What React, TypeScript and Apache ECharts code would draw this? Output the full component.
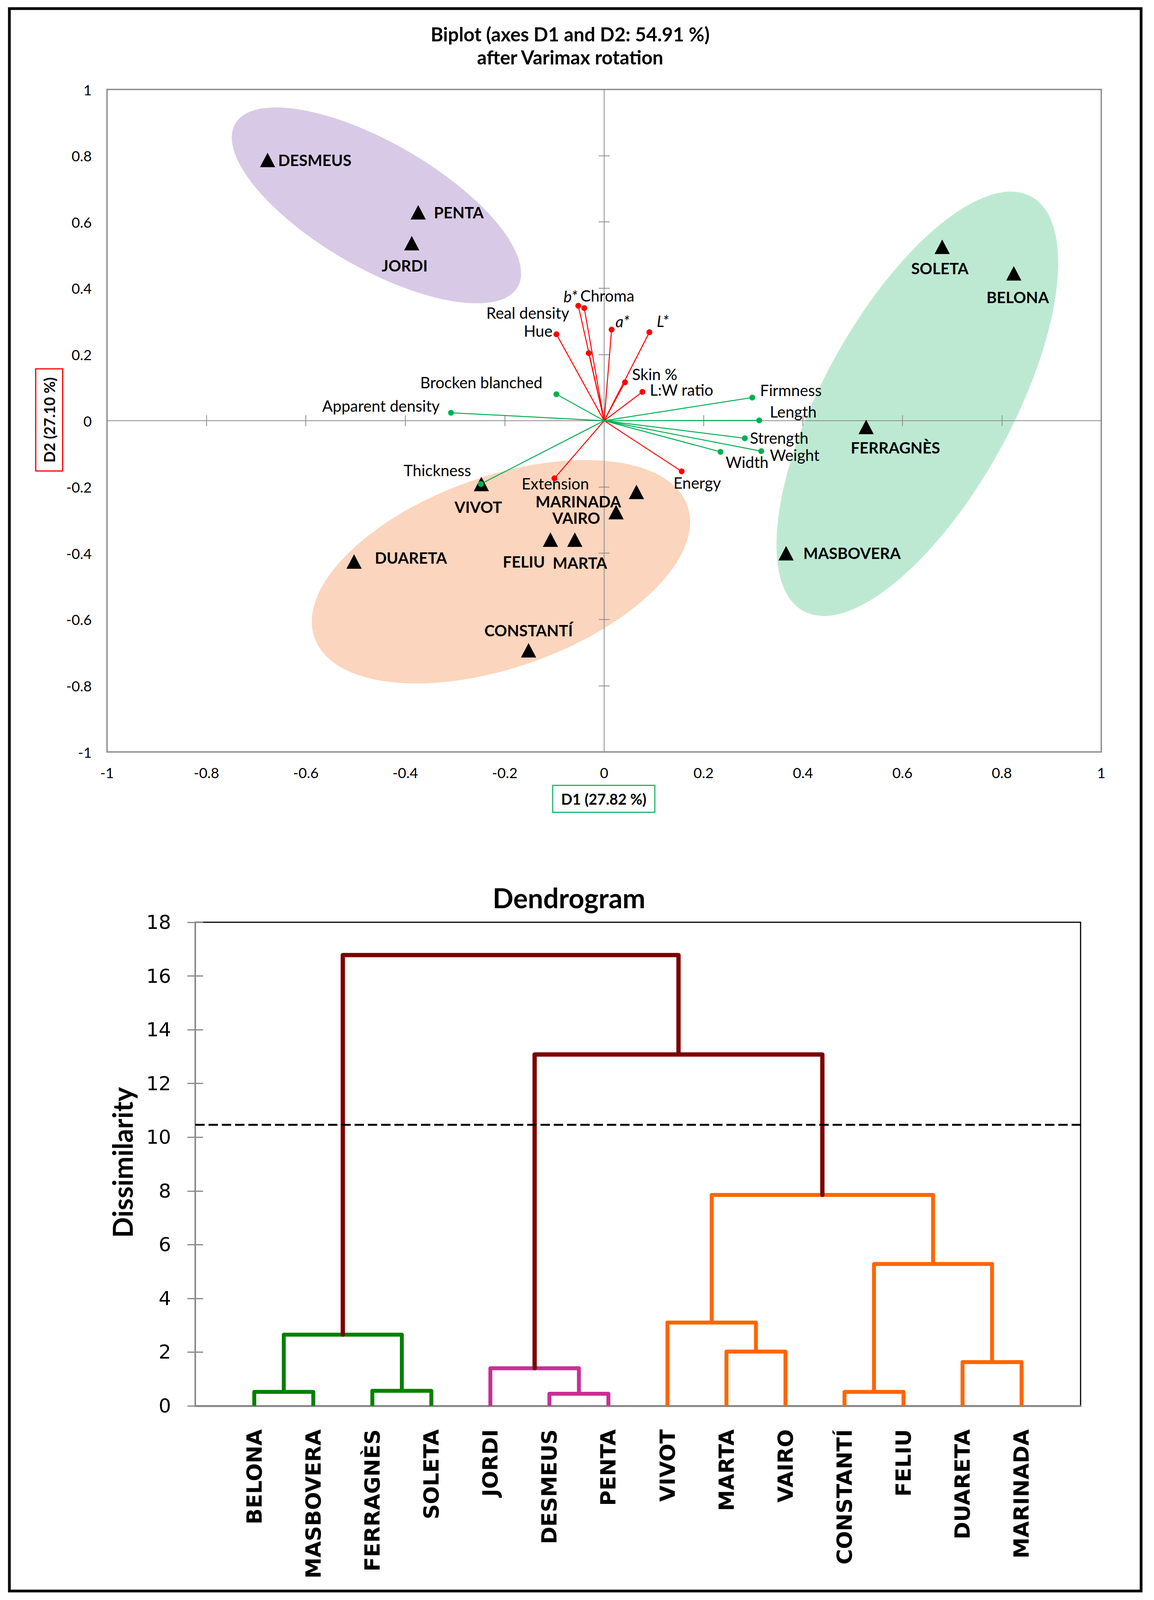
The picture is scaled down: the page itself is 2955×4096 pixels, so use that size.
import React, { useEffect, useRef } from 'react';
import * as echarts from 'echarts';

const FONT = 'Lato, "Open Sans", "Noto Sans", sans-serif';
const WIDE = '"DejaVu Sans", "Liberation Sans", sans-serif';

// ---------------- Biplot: observations (varieties) ----------------
const varieties = ['DESMEUS', 'PENTA', 'JORDI', 'SOLETA', 'BELONA', 'FERRAGNÈS', 'MASBOVERA', 'VIVOT', 'MARINADA', 'VAIRO', 'FELIU', 'MARTA', 'DUARETA', 'CONSTANTÍ'];
const varietyD1 = [-0.677, -0.374, -0.387, 0.680, 0.824, 0.527, 0.366, -0.247, 0.065, 0.024, -0.108, -0.059, -0.503, -0.152];
const varietyD2 = [0.787, 0.629, 0.536, 0.525, 0.445, -0.019, -0.400, -0.191, -0.215, -0.276, -0.359, -0.359, -0.425, -0.693];
// label placement (layout only, px)
const varietyLabelAlign = ['left', 'left', 'center', 'center', 'center', 'center', 'left', 'center', 'center', 'center', 'center', 'center', 'left', 'center'];
const varietyLabelDx = [27, 40, -18, -6, 10, 75, 44, -8, -149, -102, -68, 13, 53, 0];
const varietyLabelDy = [0, 0, 58, 55, 61, 53, 0, 59, 25, 15, 57, 60, -9, -51];

// ---------------- Biplot: variables (loadings) ----------------
const redVars = ['b*', 'Chroma', 'Real density', 'Hue', 'a*', 'L*', 'Skin %', 'L:W ratio', 'Energy', 'Extension'];
const redD1 = [-0.052, -0.040, -0.031, -0.096, 0.015, 0.091, 0.042, 0.077, 0.156, -0.100];
const redD2 = [0.347, 0.340, 0.204, 0.261, 0.275, 0.267, 0.116, 0.087, -0.153, -0.174];
const redLabelAlign = ['right', 'left', 'right', 'right', 'left', 'left', 'left', 'left', 'left', 'left'];
const redLabelDx = [-2, -10, -50, -10, 10, 19, 18, 19, -21, -84];
const redLabelDy = [-24, -32, -103, -9, -21, -29, -21, -5, 29, 13];

const greenVars = ['Brocken blanched', 'Apparent density', 'Firmness', 'Length', 'Strength', 'Weight', 'Width', 'Thickness'];
const greenD1 = [-0.096, -0.308, 0.298, 0.312, 0.283, 0.316, 0.234, -0.248];
const greenD2 = [0.080, 0.024, 0.070, 0.001, -0.053, -0.092, -0.094, -0.191];
const greenLabelAlign = ['right', 'right', 'left', 'left', 'left', 'left', 'left', 'right'];
const greenLabelDx = [-36, -29, 20, 27, 13, 22, 13, -25];
const greenLabelDy = [-30, -18, -19, -22, -1, 10, 26, -35];

const italicVars = ['b*', 'a*', 'L*'];

// ---------------- Cluster ellipses (data units; angle ccw degrees) ----------------
const ellipseCx = [-0.458, 0.630, -0.2075];
const ellipseCy = [0.650, 0.051, -0.456];
const ellipseRx = [0.328, 0.4756, 0.3976];
const ellipseRy = [0.126, 0.190, 0.192];
const ellipseAngle = [-30, 61.2, 19.5];
const ellipseColors = ['#d8cae6', '#bde9d3', '#fbd5bd'];

// ---------------- Dendrogram ----------------
const leaves = ['BELONA', 'MASBOVERA', 'FERRAGNÈS', 'SOLETA', 'JORDI', 'DESMEUS', 'PENTA', 'VIVOT', 'MARTA', 'VAIRO', 'CONSTANTÍ', 'FELIU', 'DUARETA', 'MARINADA'];
// merges create nodes 14, 15, ... ; children are leaf indexes or earlier node ids
const mergeLeft = [0, 2, 14, 5, 4, 8, 7, 10, 12, 21, 20, 18, 16];
const mergeRight = [1, 3, 15, 6, 17, 9, 19, 11, 13, 22, 23, 24, 25];
const mergeHeight = [0.52, 0.56, 2.65, 0.45, 1.40, 2.02, 3.10, 0.52, 1.63, 5.28, 7.85, 13.08, 16.78];
const mergeGroup = [0, 0, 0, 1, 1, 2, 2, 2, 2, 2, 2, 3, 3];
const groupColors = ['#008000', '#c82e96', '#ff6600', '#7a0000'];
const cutLevel = 10.47;

const xTicks = { min: -1, max: 1, interval: 0.2 };
const dendroY = { min: 0, max: 18, interval: 2 };

function buildOption() {
  const gray = '#8c8c8c';

  const nodeX: number[] = leaves.map((_, i) => i + 1);
  const nodeH: number[] = leaves.map(() => 0);
  mergeLeft.forEach((l, k) => {
    const r = mergeRight[k];
    nodeX.push((nodeX[l] + nodeX[r]) / 2);
    nodeH.push(mergeHeight[k]);
  });
  const dendroData = mergeLeft.map((l, k) => {
    const r = mergeRight[k];
    const h = mergeHeight[k];
    return {
      coords: [[nodeX[l], nodeH[l]], [nodeX[l], h], [nodeX[r], h], [nodeX[r], nodeH[r]]],
      lineStyle: { color: groupColors[mergeGroup[k]], width: mergeGroup[k] === 3 ? 11 : 10 },
    };
  });

  const fmt = (v: number) => String(Math.round(v * 10) / 10);

  const zeroAxis = (inside: boolean) => ({
    gridIndex: 0, type: 'value', min: xTicks.min, max: xTicks.max, interval: xTicks.interval, z: 3,
    axisLine: { show: true, onZero: true, onZeroAxisIndex: 0, lineStyle: { color: gray, width: 2 } },
    axisTick: { show: true, inside, length: 14, lineStyle: { color: gray, width: 2 } },
    axisLabel: { show: false }, splitLine: { show: false },
  });

  const markerData = (names: string[], d1: number[], d2: number[], al: string[], dx: number[], dy: number[]) =>
    names.map((n, i) => ({
      name: n,
      value: [d1[i], d2[i]],
      label: { align: al[i], offset: [dx[i], dy[i]], fontStyle: italicVars.includes(n) ? 'italic' : 'normal' },
    }));

  const centered = { align: 'center', verticalAlign: 'middle', textAlign: 'center', textVerticalAlign: 'middle' };

  return {
    animation: false,
    backgroundColor: '#ffffff',
    graphic: [
      { type: 'rect', shape: { x: 24, y: 22, width: 2898, height: 4051 }, style: { fill: 'none', stroke: '#000', lineWidth: 7 }, z: 10 },
      { type: 'text', x: 1460, y: 87, style: { text: 'Biplot (axes D1 and D2: 54.91 %)', fill: '#000', fontSize: 49, fontWeight: 'bold', fontFamily: FONT, ...centered } },
      { type: 'text', x: 1460, y: 146, style: { text: 'after Varimax rotation', fill: '#000', fontSize: 49, fontWeight: 'bold', fontFamily: FONT, ...centered } },
      { type: 'text', x: 1546, y: 2045, style: { text: 'D1 (27.82 %)', fill: '#000', fontSize: 38, fontWeight: 'bold', fontFamily: FONT, ...centered, borderColor: '#1fb56a', borderWidth: 3, padding: [14, 20], backgroundColor: '#fff' } },
      { type: 'text', x: 126, y: 1075, rotation: Math.PI / 2, style: { text: 'D2 (27.10 %)', fill: '#000', fontSize: 38, fontWeight: 'bold', fontFamily: FONT, ...centered, borderColor: '#ff0000', borderWidth: 3, padding: [14, 20], backgroundColor: '#fff' } },
      { type: 'text', x: 1457, y: 2298, style: { text: 'Dendrogram', fill: '#000', fontSize: 70, fontWeight: 'bold', fontFamily: FONT, ...centered } },
      { type: 'text', x: 313, y: 2976, rotation: Math.PI / 2, style: { text: 'Dissimilarity', fill: '#000', fontSize: 70, fontWeight: 'bold', fontFamily: FONT, ...centered } },
    ],
    grid: [
      { left: 274, right: 135, top: 229, bottom: 2171, show: true, borderColor: gray, borderWidth: 3.5, backgroundColor: 'transparent', outerBoundsMode: 'none', containLabel: false },
      { left: 500, right: 188, top: 2361, bottom: 497, show: true, borderColor: '#000', borderWidth: 3, backgroundColor: 'transparent', outerBoundsMode: 'none', containLabel: false },
    ],
    xAxis: [
      {
        gridIndex: 0, type: 'value', position: 'bottom', min: xTicks.min, max: xTicks.max, interval: xTicks.interval,
        axisLine: { show: false, onZero: false }, axisTick: { show: false }, splitLine: { show: false },
        axisLabel: { show: true, color: '#000', fontSize: 37, fontFamily: FONT, margin: 34, formatter: fmt },
      },
      zeroAxis(false),
      zeroAxis(true),
      {
        gridIndex: 1, type: 'value', position: 'bottom', min: 0, max: leaves.length + 1, interval: 1, z: 3,
        axisLine: { show: true, onZero: false, lineStyle: { color: '#888888', width: 5 } },
        axisTick: { show: false }, splitLine: { show: false },
        axisLabel: {
          show: true, rotate: 90, margin: 60, color: '#000', fontSize: 54, fontWeight: 'bold', fontFamily: WIDE,
          formatter: (v: number) => leaves[Math.round(v) - 1] ?? '', showMinLabel: true, showMaxLabel: true,
        },
      },
    ],
    yAxis: [
      {
        gridIndex: 0, type: 'value', position: 'left', min: xTicks.min, max: xTicks.max, interval: xTicks.interval,
        axisLine: { show: false, onZero: false }, axisTick: { show: false }, splitLine: { show: false },
        axisLabel: { show: true, color: '#000', fontSize: 37, fontFamily: FONT, margin: 39, formatter: fmt },
      },
      zeroAxis(false),
      zeroAxis(true),
      {
        gridIndex: 1, type: 'value', position: 'left', min: dendroY.min, max: dendroY.max, interval: dendroY.interval, z: 3,
        axisLine: { show: true, onZero: false, lineStyle: { color: '#888888', width: 4 } },
        axisTick: { show: true, inside: false, length: 20, lineStyle: { color: '#888888', width: 3 } },
        splitLine: { show: false },
        axisLabel: { show: true, color: '#000', fontSize: 50, fontFamily: WIDE, margin: 62 },
      },
      {
        gridIndex: 1, type: 'value', position: 'left', min: dendroY.min, max: dendroY.max, interval: dendroY.interval, z: 3,
        axisLine: { show: false, onZero: false },
        axisTick: { show: true, inside: true, length: 20, lineStyle: { color: '#888888', width: 3 } },
        splitLine: { show: false }, axisLabel: { show: false },
      },
    ],
    series: [
      {
        type: 'custom', name: 'clusters', xAxisIndex: 0, yAxisIndex: 0, z: 1, silent: true,
        data: ellipseCx.map((cx, i) => [cx, ellipseCy[i], ellipseRx[i], ellipseRy[i], ellipseAngle[i]]),
        renderItem: (params: any, api: any) => {
          const c = api.coord([api.value(0), api.value(1)]);
          const rx = api.size([api.value(2), 0])[0];
          const ry = api.size([api.value(3), 0])[0];
          return {
            type: 'ellipse', x: c[0], y: c[1], rotation: (api.value(4) * Math.PI) / 180,
            shape: { cx: 0, cy: 0, rx, ry },
            style: { fill: ellipseColors[params.dataIndex], stroke: 'none' },
          };
        },
      },
      {
        type: 'lines', name: 'red vectors', coordinateSystem: 'cartesian2d', xAxisIndex: 0, yAxisIndex: 0, z: 4, silent: true,
        lineStyle: { color: '#ff0000', width: 2.5, opacity: 1, curveness: 0 },
        data: redVars.map((_, i) => ({ coords: [[0, 0], [redD1[i], redD2[i]]] })),
      },
      {
        type: 'lines', name: 'green vectors', coordinateSystem: 'cartesian2d', xAxisIndex: 0, yAxisIndex: 0, z: 4, silent: true,
        lineStyle: { color: '#00b050', width: 2.5, opacity: 1, curveness: 0 },
        data: greenVars.map((_, i) => ({ coords: [[0, 0], [greenD1[i], greenD2[i]]] })),
      },
      {
        type: 'scatter', name: 'varieties', xAxisIndex: 0, yAxisIndex: 0, z: 5, silent: true,
        symbol: 'triangle', symbolSize: [39, 37], itemStyle: { color: '#000', opacity: 1 },
        label: { show: true, position: 'inside', formatter: '{b}', color: '#000', fontSize: 40, fontWeight: 'bold', fontFamily: FONT, verticalAlign: 'middle' },
        data: varieties.map((n, i) => ({
          name: n, value: [varietyD1[i], varietyD2[i]],
          label: { align: varietyLabelAlign[i], offset: [varietyLabelDx[i], varietyLabelDy[i]] },
        })),
      },
      {
        type: 'scatter', name: 'red variables', xAxisIndex: 0, yAxisIndex: 0, z: 6, silent: true,
        symbol: 'circle', symbolSize: 15, itemStyle: { color: '#ff0000', opacity: 1 },
        label: { show: true, position: 'inside', formatter: '{b}', color: '#000', fontSize: 40, fontFamily: FONT, verticalAlign: 'middle' },
        data: markerData(redVars, redD1, redD2, redLabelAlign, redLabelDx, redLabelDy),
      },
      {
        type: 'scatter', name: 'green variables', xAxisIndex: 0, yAxisIndex: 0, z: 6, silent: true,
        symbol: 'circle', symbolSize: 15, itemStyle: { color: '#00b050', opacity: 1 },
        label: { show: true, position: 'inside', formatter: '{b}', color: '#000', fontSize: 40, fontFamily: FONT, verticalAlign: 'middle' },
        data: markerData(greenVars, greenD1, greenD2, greenLabelAlign, greenLabelDx, greenLabelDy),
      },
      {
        type: 'lines', name: 'dendrogram', coordinateSystem: 'cartesian2d', xAxisIndex: 3, yAxisIndex: 3, z: 5, silent: true,
        polyline: true,
        lineStyle: { opacity: 1, cap: 'round', join: 'round' },
        data: dendroData,
      },
      {
        type: 'lines', name: 'cut', coordinateSystem: 'cartesian2d', xAxisIndex: 3, yAxisIndex: 3, z: 6, silent: true,
        lineStyle: { color: '#000', width: 5, opacity: 1, type: [24, 10] },
        data: [{ coords: [[0, cutLevel], [leaves.length + 1, cutLevel]] }],
      },
    ],
  };
}

export default function App() {
  const ref = useRef<HTMLDivElement>(null);
  useEffect(() => {
    document.body.style.margin = '0';
    const el = ref.current!;
    const chart = echarts.init(el, null, { renderer: 'svg', width: 2955, height: 4096 });
    chart.setOption(buildOption() as any);
    return () => chart.dispose();
  }, []);
  return <div ref={ref} style={{ width: 2955, height: 4096, background: '#fff' }} />;
}
